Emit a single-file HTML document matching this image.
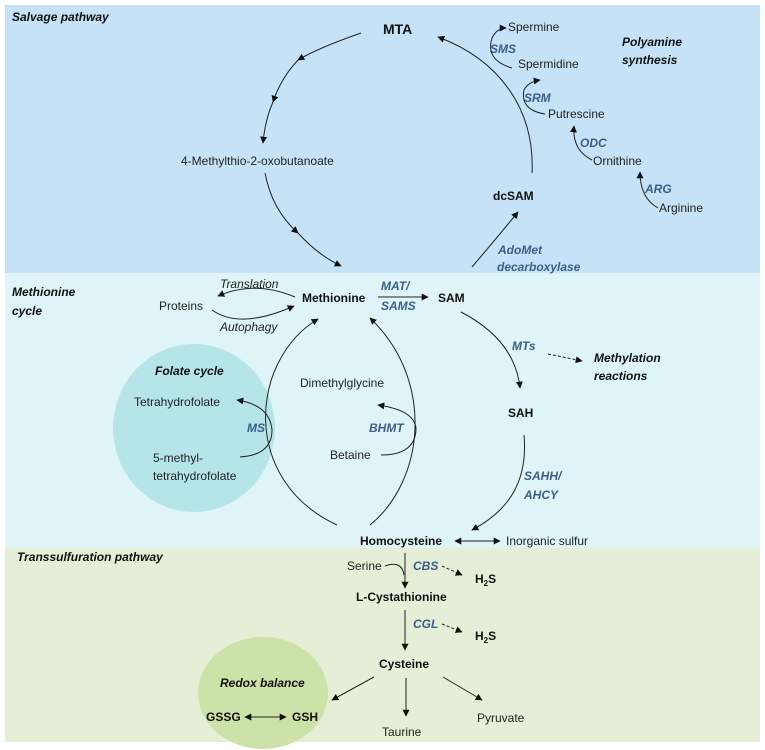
<!DOCTYPE html>
<html><head><meta charset="utf-8"><style>
html,body{margin:0;padding:0;background:#fff}
svg{display:block}
text{font-family:"Liberation Sans",sans-serif;font-size:12px;fill:#222}
.b{font-weight:bold;fill:#111}
.bi{font-weight:bold;font-style:italic;fill:#111}
.e{font-weight:bold;font-style:italic;fill:#3b5f8a}
.i{font-style:italic}
path,line{fill:none;stroke:#222;stroke-width:1}
</style></head><body>
<svg width="765" height="750" viewBox="0 0 765 750" xmlns="http://www.w3.org/2000/svg">
<defs>
<marker id="a" viewBox="0 0 10 10" refX="9" refY="5" markerWidth="7" markerHeight="7" orient="auto-start-reverse"><path d="M0,0 L10,5 L0,10 z" style="fill:#111;stroke:none"/></marker>
</defs>
<rect x="5" y="5" width="755" height="268" fill="#c6e2f6"/>
<rect x="5" y="273" width="755" height="275" fill="#dff4f7"/>
<rect x="5" y="548" width="755" height="194" fill="#e5efd7"/>
<ellipse cx="194" cy="428" rx="81" ry="84" fill="#b5e5e8"/>
<ellipse cx="263" cy="693" rx="65" ry="56" fill="#cde2a8"/>

<!-- top texts -->
<text x="12" y="21" class="bi">Salvage pathway</text>
<text x="383" y="34" class="b" style="font-size:14px">MTA</text>
<text x="508" y="31">Spermine</text>
<text x="490" y="53" class="e">SMS</text>
<text x="518" y="68">Spermidine</text>
<text x="622" y="46" class="bi">Polyamine</text>
<text x="622" y="64" class="bi">synthesis</text>
<text x="524" y="102" class="e">SRM</text>
<text x="548" y="118">Putrescine</text>
<text x="580" y="147" class="e">ODC</text>
<text x="593" y="165">Ornithine</text>
<text x="645" y="193" class="e">ARG</text>
<text x="659" y="212">Arginine</text>
<text x="493" y="200" class="b">dcSAM</text>
<text x="181" y="165">4-Methylthio-2-oxobutanoate</text>
<text x="498" y="254" class="e">AdoMet</text>
<text x="497" y="271" class="e">decarboxylase</text>

<!-- salvage arcs -->
<path d="M361,33 Q318,48 298,60" marker-end="url(#a)"/>
<path d="M298,60 Q281,78 273,102" marker-end="url(#a)"/>
<path d="M273,102 Q265,120 263,143" marker-end="url(#a)"/>
<path d="M265,173 Q272,210 298,233" marker-end="url(#a)"/>
<path d="M298,233 Q318,255 341,266" marker-end="url(#a)"/>
<path d="M532,173 C535,110 500,60 438,37" marker-end="url(#a)"/>
<path d="M472,267 Q495,240 518,212" marker-end="url(#a)"/>
<path d="M512,68 Q485,60 492,38 Q497,28 506,28" marker-end="url(#a)"/>
<path d="M545,114 Q520,110 524,90 Q528,82 540,80" marker-end="url(#a)"/>
<path d="M592,160 Q572,150 574,126" marker-end="url(#a)"/>
<path d="M658,208 Q640,198 640,172" marker-end="url(#a)"/>

<!-- middle -->
<text x="12" y="296" class="bi">Methionine</text>
<text x="12" y="315" class="bi">cycle</text>
<text x="220" y="288" class="i">Translation</text>
<text x="159" y="310">Proteins</text>
<text x="220" y="331" class="i">Autophagy</text>
<text x="302" y="302" class="b">Methionine</text>
<text x="381" y="290" class="e">MAT/</text>
<text x="381" y="310" class="e">SAMS</text>
<text x="438" y="302" class="b">SAM</text>
<path d="M378,297 L428,297" marker-end="url(#a)"/>
<path d="M295,297 Q255,280 218,296" marker-end="url(#a)"/>
<path d="M212,310 Q240,330 294,306" marker-end="url(#a)"/>

<text x="155" y="375" class="bi">Folate cycle</text>
<text x="134" y="406">Tetrahydrofolate</text>
<text x="247" y="432" class="e">MS</text>
<text x="153" y="462">5-methyl-</text>
<text x="153" y="480">tetrahydrofolate</text>
<path d="M240,457 Q272,455 272,430 Q270,405 237,400" marker-end="url(#a)"/>

<text x="300" y="387">Dimethylglycine</text>
<text x="369" y="432" class="e">BHMT</text>
<text x="330" y="459">Betaine</text>
<path d="M381,455 Q416,455 416,428 Q414,410 378,405" marker-end="url(#a)"/>

<path d="M337,525 C240,480 250,360 318,319" marker-end="url(#a)"/>
<path d="M370,525 C425,480 435,380 370,318" marker-end="url(#a)"/>

<text x="512" y="350" class="e">MTs</text>
<text x="594" y="362" class="bi">Methylation</text>
<text x="594" y="380" class="bi">reactions</text>
<path d="M548,354 L582,361" style="stroke-dasharray:3,2" marker-end="url(#a)"/>
<path d="M461,312 Q515,340 520,388" marker-end="url(#a)"/>
<text x="508" y="417" class="b">SAH</text>
<text x="524" y="480" class="e">SAHH/</text>
<text x="524" y="499" class="e">AHCY</text>
<path d="M524,435 C528,480 510,510 472,530" marker-end="url(#a)"/>
<text x="360" y="545" class="b">Homocysteine</text>
<text x="506" y="545">Inorganic sulfur</text>
<path d="M455,541 L500,541" marker-start="url(#a)" marker-end="url(#a)"/>

<!-- bottom -->
<text x="17" y="561" class="bi">Transsulfuration pathway</text>
<path d="M405,553 L405,588" marker-end="url(#a)"/>
<text x="347" y="570">Serine</text>
<path d="M385,566 Q402,560 404,575"/>
<text x="413" y="570" class="e">CBS</text>
<path d="M442,566 L462,575" style="stroke-dasharray:3,2" marker-end="url(#a)"/>
<text x="475" y="583" class="b">H<tspan style="font-size:8px" dy="3">2</tspan><tspan dy="-3">S</tspan></text>
<text x="356" y="601" class="b">L-Cystathionine</text>
<path d="M405,610 L405,650" marker-end="url(#a)"/>
<text x="413" y="628" class="e">CGL</text>
<path d="M442,624 L462,632" style="stroke-dasharray:3,2" marker-end="url(#a)"/>
<text x="475" y="640" class="b">H<tspan style="font-size:8px" dy="3">2</tspan><tspan dy="-3">S</tspan></text>
<text x="379" y="668" class="b">Cysteine</text>
<path d="M374,677 L332,700" marker-end="url(#a)"/>
<path d="M406,678 L406,716" marker-end="url(#a)"/>
<path d="M443,677 L482,700" marker-end="url(#a)"/>
<text x="220" y="687" class="bi">Redox balance</text>
<text x="206" y="721" class="b">GSSG</text>
<text x="292" y="721" class="b">GSH</text>
<path d="M245,717 L286,717" marker-start="url(#a)" marker-end="url(#a)"/>
<text x="382" y="736">Taurine</text>
<text x="477" y="722">Pyruvate</text>
</svg>
</body></html>
